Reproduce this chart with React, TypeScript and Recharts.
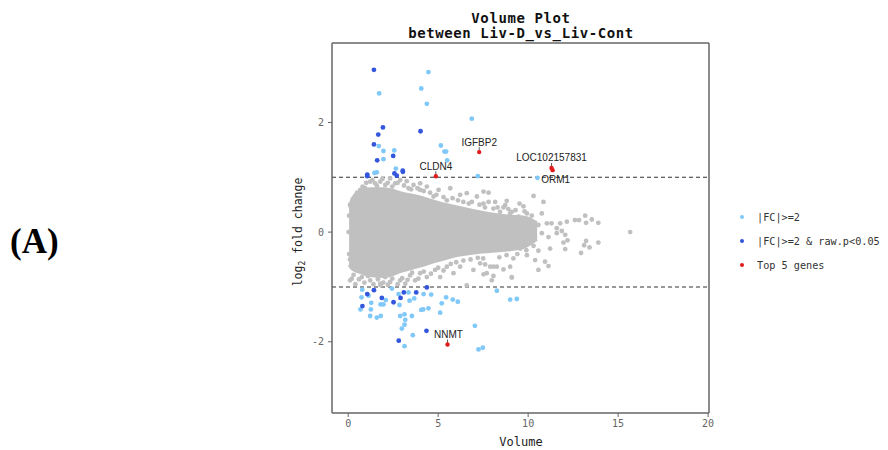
import React from "react";
import {
  ComposedChart,
  Area,
  Scatter,
  XAxis,
  YAxis,
  ReferenceLine,
} from "recharts";

// dense core of the grey cloud: [volume, low, high]
const coreBand: [number, number, number][] = [
  [0.05, -0.6, 0.45],
  [0.2, -0.68, 0.62],
  [0.6, -0.74, 0.75],
  [1.2, -0.8, 0.8],
  [2.0, -0.82, 0.8],
  [3.0, -0.72, 0.72],
  [4.0, -0.63, 0.65],
  [5.0, -0.53, 0.55],
  [6.0, -0.44, 0.47],
  [7.0, -0.39, 0.4],
  [8.0, -0.36, 0.34],
  [9.0, -0.33, 0.3],
  [9.8, -0.28, 0.28],
  [10.5, -0.14, 0.18],
];

// sparse grey genes around the core
const greyGenes: [number, number][] = [
  [7.8, 0.72], [8.17, 0.55], [8.81, 0.57], [8.63, 0.45], [9.52, 0.52], [9.74, 0.47],
  [10.3, 0.66], [10.85, 0.55], [10.76, 0.34], [10.1, 0.22], [10.57, 0.13], [11.04, 0.16],
  [11.3, 0.16], [11.78, 0.16], [12.15, 0.19], [12.6, 0.22], [12.83, 0.22], [13.17, 0.3],
  [13.22, 0.17], [13.54, 0.23], [13.9, 0.17], [10.76, -0.02], [11.13, -0.09], [11.59, -0.02],
  [12.06, -0.05], [12.19, -0.15], [11.96, -0.19], [11.22, -0.3], [12.06, -0.31], [13.22, -0.16],
  [13.11, -0.24], [13.41, -0.28], [13.9, -0.19], [12.94, -0.38], [10.57, -0.34], [10.39, -0.51],
  [10.94, -0.54], [11.13, -0.62], [10.57, -0.69], [9.93, -0.42], [9.56, -0.3], [9.18, -0.48],
  [9.0, -0.63], [8.63, -0.68], [9.09, -0.83], [8.07, -0.63], [7.89, -0.63], [7.61, -0.59],
  [8.07, -0.8], [7.98, -0.88], [7.52, -0.77], [8.9, 0.16], [9.37, 0.04], [9.74, -0.09],
  [10.1, -0.18], [9.93, 0.34], [9.46, 0.28], [9.0, 0.34], [8.44, 0.37], [7.52, 0.52],
  [10.3, -0.05], [11.59, 0.07], [11.87, 0.02], [15.67, 0.0],
  [5.02, 0.77], [5.67, 0.8], [4.74, 0.65], [6.22, 0.68], [6.59, 0.71], [7.15, 0.65],
  [7.52, 0.74], [5.48, 0.58], [6.87, 0.55], [7.8, 0.55], [8.07, 0.43], [8.72, 0.49],
  [9.09, 0.37], [4.0, 0.89], [3.63, 0.86], [3.35, 0.8], [2.89, 0.95], [2.61, 0.89],
  [2.33, 0.98], [2.06, 0.86], [1.78, 0.92], [1.5, 0.89], [1.22, 0.92], [0.94, 0.8],
  [0.67, 0.77], [0.39, 0.65], [0.3, 0.49], [4.37, 0.83], [4.0, 0.77],
  [0.2, -0.85], [0.48, -0.69], [0.76, -0.82], [1.04, -0.66], [1.22, -0.88], [1.5, -0.75],
  [1.78, -0.94], [2.06, -0.82], [2.33, -0.91], [2.61, -0.72], [2.89, -0.88], [3.17, -0.94],
  [3.44, -0.79], [3.72, -0.88], [4.0, -0.75], [4.37, -0.82], [4.83, -0.69], [5.11, -0.82],
  [5.48, -0.63], [5.85, -0.75], [6.22, -0.63], [6.59, -0.97], [6.96, -0.69], [7.33, -0.57],
  [7.7, -0.75], [8.26, -0.63], [9.09, -0.82], [0.11, -0.88], [0.4, -0.95], [1.8, -0.97],
  [0.05, 0.3], [0.05, -0.4], [0.1, 0.5], [0.15, -0.62], [0.02, 0.0], [0.1, -0.5],
  [0.5, 0.72], [0.8, 0.83], [1.0, 0.9], [1.35, 0.95], [1.6, 0.84], [1.9, 0.97],
  [2.2, 0.9], [2.45, 0.83], [2.75, 0.9], [3.1, 0.85], [3.25, 0.93], [3.5, 0.78],
  [3.85, 0.8], [4.2, 0.75], [4.55, 0.72], [4.9, 0.68], [5.3, 0.64], [5.8, 0.62],
  [6.1, 0.58], [6.4, 0.55], [6.7, 0.52], [7.3, 0.5], [7.6, 0.45], [8.3, 0.45],
  [8.9, 0.42], [9.3, 0.4], [9.8, 0.38], [10.2, 0.3],
  [0.3, -0.78], [0.6, -0.86], [0.9, -0.92], [1.1, -0.8], [1.4, -0.95], [1.65, -0.86],
  [1.95, -0.92], [2.2, -0.96], [2.45, -0.85], [2.75, -0.95], [3.0, -0.84], [3.3, -0.87],
  [3.55, -0.74], [3.9, -0.85], [4.2, -0.72], [4.6, -0.76], [5.0, -0.65], [5.3, -0.7],
  [5.7, -0.58], [6.0, -0.55], [6.4, -0.52], [6.8, -0.5], [7.2, -0.47], [7.5, -0.48],
  [8.4, -0.46], [8.8, -0.42], [9.4, -0.4], [9.9, -0.33], [10.3, -0.25],
];

// |FC|>=2
const fcGenes: [number, number][] = [
  [4.46, 2.92], [1.72, 2.53], [4.06, 2.62], [4.37, 2.34], [6.87, 2.07], [1.7, 1.57],
  [1.96, 1.48], [2.56, 1.49], [1.96, 1.33], [5.15, 1.58], [5.35, 1.47], [5.44, 1.47],
  [5.5, 1.31], [2.65, 1.16], [1.46, 1.08], [1.59, 1.09], [7.2, 1.02], [10.52, 0.99],
  [0.78, -1.05], [0.74, -1.19], [1.13, -1.16], [1.28, -1.29], [1.8, -1.32], [1.96, -1.32],
  [2.09, -1.24], [2.43, -1.03], [2.8, -1.13], [2.85, -1.33], [3.35, -1.1], [3.41, -1.25],
  [3.67, -1.21], [4.19, -1.13], [4.61, -1.14], [5.44, -1.19], [5.2, -1.3], [5.81, -1.23],
  [6.09, -1.27], [8.26, -1.07], [9.0, -1.23], [9.37, -1.22], [0.68, -1.41], [1.26, -1.41],
  [1.22, -1.53], [1.59, -1.56], [1.81, -1.53], [3.13, -1.5], [2.89, -1.53], [3.54, -1.53],
  [4.06, -1.42], [4.17, -1.41], [4.46, -1.39], [5.11, -1.47], [2.98, -1.76], [3.59, -1.88],
  [3.13, -2.08], [7.04, -1.71], [7.24, -2.14], [7.48, -2.11], [3.17, -1.6], [3.13, -1.69],
];

// |FC|>=2 & raw.p<0.05
const sigGenes: [number, number][] = [
  [1.43, 2.96], [1.93, 1.91], [1.67, 1.78], [1.43, 1.6], [1.61, 1.31], [2.5, 1.39],
  [4.02, 1.84], [1.06, 1.05], [1.06, 1.02], [2.57, 1.07], [2.7, 1.03], [3.03, 1.12],
  [3.04, 1.1], [1.06, -1.13], [1.43, -1.06], [1.87, -1.2], [2.52, -1.28], [2.91, -1.2],
  [3.09, -1.1], [3.78, -1.1], [4.37, -1.01], [0.79, -1.35], [4.35, -1.8], [2.81, -1.98],
];

const topGenes = ["IGFBP2", "CLDN4", "LOC102157831", "ORM1", "NNMT"];
const topVolume = [7.28, 4.87, 11.3, 11.36, 5.52];
const topFc = [1.46, 1.02, 1.17, 1.13, -2.05];

const xTicks = [0, 5, 10, 15, 20];
const yTicks = [-2, 0, 2];
const cutoffs = [1, -1];
const xDomain: [number, number] = [-0.9, 20.05];
const yDomain: [number, number] = [-3.3, 3.45];

const legendItems = [
  { label: "|FC|>=2", color: "#80c8f8" },
  { label: "|FC|>=2 & raw.p<0.05", color: "#3356dc" },
  { label: "Top 5 genes", color: "#e31a1c" },
];

const GREY = "#c0c0c0";
const FRAME = "#666";
const MONO = "'DejaVu Sans Mono', monospace";

const bandData = coreBand.map(([x, lo, hi]) => ({ x, range: [lo, hi] }));
const toPts = (arr: [number, number][]) => arr.map(([x, y]) => ({ x, y }));
const topData = topGenes.map((name, i) => ({ name, x: topVolume[i], y: topFc[i] }));

// where each gene name sits relative to its point
const labelPos: Record<string, { dx: number; dy: number; arrow: boolean }> = {
  IGFBP2: { dx: 0, dy: -6, arrow: true },
  CLDN4: { dx: 0, dy: -6, arrow: true },
  LOC102157831: { dx: 0, dy: -7, arrow: true },
  ORM1: { dx: 3, dy: 13, arrow: false },
  NNMT: { dx: 1, dy: -6, arrow: true },
};

const dot = (color: string) => (p: any) => (
  <circle cx={p.cx} cy={p.cy} r={2.4} fill={color} />
);

const TopShape = (p: any) => {
  const pos = labelPos[p.payload.name];
  return (
    <g>
      {pos.arrow && (
        <line x1={p.cx} y1={p.cy - 5} x2={p.cx} y2={p.cy - 1} stroke="#333" strokeWidth={0.8} />
      )}
      <circle cx={p.cx} cy={p.cy} r={2.2} fill="#e31a1c" />
      <text
        x={p.cx + pos.dx}
        y={p.cy + pos.dy}
        textAnchor="middle"
        fontSize={10}
        fontFamily="'Liberation Sans', Arial, sans-serif"
        fill="#222"
      >
        {p.payload.name}
      </text>
    </g>
  );
};

const tickStyle = { fill: "#666", fontSize: 10, fontFamily: MONO };

export default function App() {
  return (
    <div style={{ position: "absolute", left: 0, top: 0, width: 888, height: 450, background: "#fff" }}>
      <ComposedChart
        width={888}
        height={450}
        data={bandData}
        margin={{ top: 43, right: 179, bottom: 7, left: 292 }}
      >
        <XAxis
          dataKey="x"
          type="number"
          domain={xDomain}
          ticks={xTicks}
          tick={tickStyle}
          tickSize={4}
          tickMargin={3}
          height={30}
          axisLine={{ stroke: FRAME, strokeWidth: 1.5 }}
          tickLine={{ stroke: FRAME }}
          allowDataOverflow
        />
        <YAxis
          type="number"
          domain={yDomain}
          ticks={yTicks}
          tick={tickStyle}
          tickSize={4}
          tickMargin={4}
          width={40}
          axisLine={{ stroke: FRAME, strokeWidth: 1.5 }}
          tickLine={{ stroke: FRAME }}
          allowDataOverflow
        />
        <Area
          dataKey="range"
          type="monotone"
          stroke={GREY}
          strokeWidth={2}
          fill={GREY}
          fillOpacity={1}
          isAnimationActive={false}
        />
        <Scatter data={toPts(greyGenes)} dataKey="y" shape={dot(GREY)} isAnimationActive={false} />
        <Scatter data={toPts(fcGenes)} dataKey="y" shape={dot("#80c8f8")} isAnimationActive={false} />
        <Scatter data={toPts(sigGenes)} dataKey="y" shape={dot("#3356dc")} isAnimationActive={false} />
        {cutoffs.map((c) => (
          <ReferenceLine key={c} y={c} stroke="#333" strokeDasharray="4 3" strokeWidth={1.1} />
        ))}
        <ReferenceLine y={yDomain[1]} stroke={FRAME} strokeWidth={1.5} />
        <ReferenceLine x={xDomain[1]} stroke={FRAME} strokeWidth={1.5} />
        <Scatter data={topData} dataKey="y" shape={TopShape} isAnimationActive={false} />
      </ComposedChart>

      <svg
        width={888}
        height={450}
        style={{ position: "absolute", left: 0, top: 0, pointerEvents: "none" }}
      >
        <text x={521} y={23} textAnchor="middle" fontSize={14} fontWeight="bold" fontFamily={MONO} letterSpacing={0.6} fill="#111">
          Volume Plot
        </text>
        <text x={521} y={38} textAnchor="middle" fontSize={14} fontWeight="bold" fontFamily={MONO} letterSpacing={0.6} fill="#111">
          between Liv-D_vs_Liv-Cont
        </text>
        <text x={521} y={446} textAnchor="middle" fontSize={12} fontFamily={MONO} fill="#222">
          Volume
        </text>
        <text
          x={302}
          y={232}
          transform="rotate(-90 302 232)"
          textAnchor="middle"
          fontSize={11.5}
          fontFamily={MONO}
          fill="#222"
        >
          log<tspan fontSize={8} dy={3}>2</tspan>
          <tspan dy={-3}> fold change</tspan>
        </text>
        {legendItems.map((it, i) => (
          <g key={it.label}>
            <circle cx={742} cy={217 + i * 24} r={2} fill={it.color} />
            <text x={757} y={221 + i * 24} fontSize={10.2} fontFamily={MONO} fill="#333">
              {it.label}
            </text>
          </g>
        ))}
        <text x={10} y={253} fontSize={35} fontWeight="bold" fontFamily="'Liberation Serif', 'Times New Roman', serif" fill="#000">
          (A)
        </text>
      </svg>
    </div>
  );
}
